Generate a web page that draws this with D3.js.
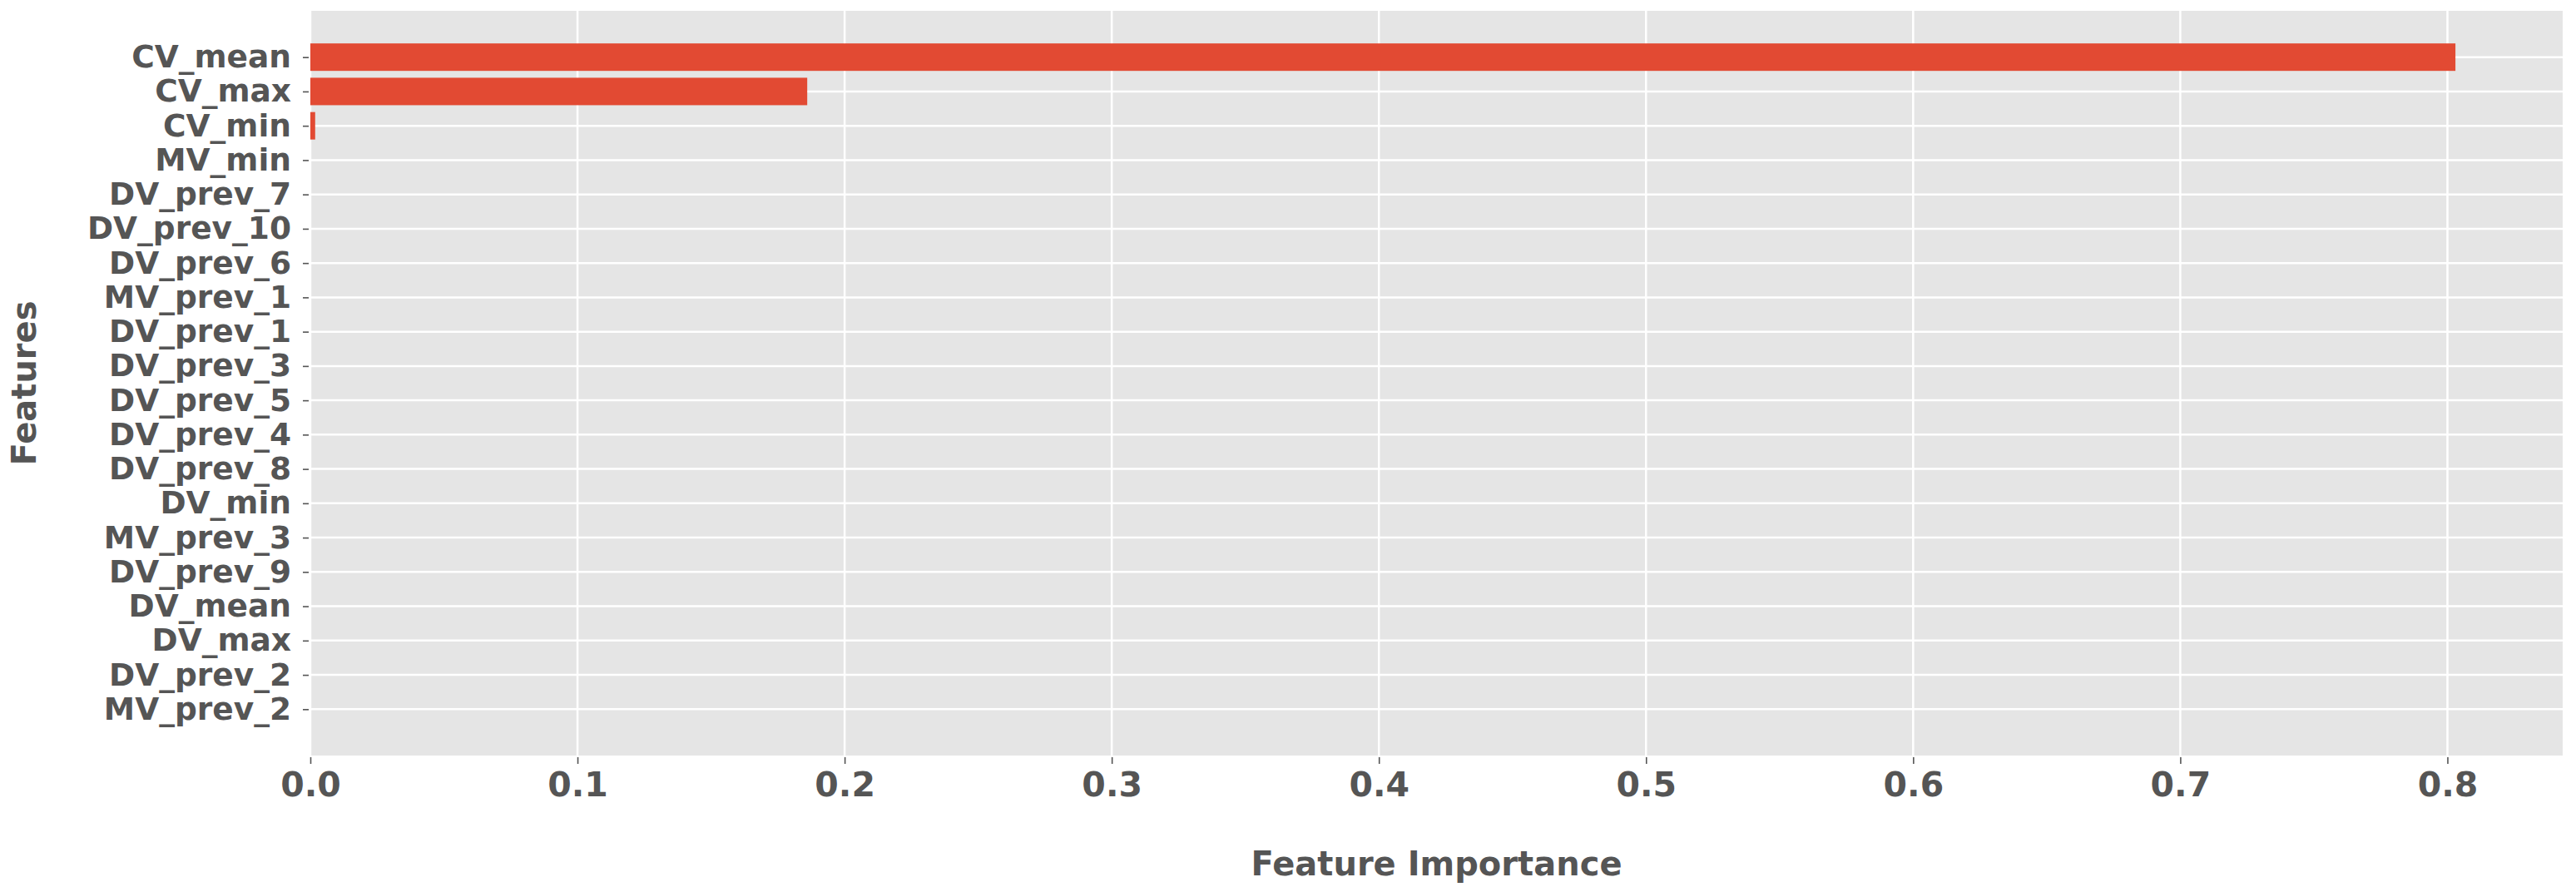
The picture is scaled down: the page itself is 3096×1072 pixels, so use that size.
<!DOCTYPE html>
<html lang="en">
    <head>
        <meta charset="utf-8">
        <title>Feature Importance</title>
        <script src="https://d3js.org/d3.v7.min.js"></script>
        <style type="text/css">
        body { margin: 0; background: #ffffff; }
        </style>
    </head>
    <body>
        <script type="text/javascript">

//1. data, top to bottom as in the plot
const features = ["CV_mean", "CV_max", "CV_min", "MV_min", "DV_prev_7", "DV_prev_10",
                  "DV_prev_6", "MV_prev_1", "DV_prev_1", "DV_prev_3", "DV_prev_5",
                  "DV_prev_4", "DV_prev_8", "DV_min", "MV_prev_3", "DV_prev_9",
                  "DV_mean", "DV_max", "DV_prev_2", "MV_prev_2"];
const importance = [0.803, 0.186, 0.0018, 0, 0, 0, 0, 0, 0, 0,
                    0, 0, 0, 0, 0, 0, 0, 0, 0, 0];
const xTicks = [0, 0.1, 0.2, 0.3, 0.4, 0.5, 0.6, 0.7, 0.8];

//2. layout consts
const svgWidth = 3096;
const svgHeight = 1072;
const plotLeft = 373, plotRight = 3080, plotTop = 13, plotBottom = 908;
const textColor = "#555555";
const font = "DejaVu Sans";

const svg = d3.select("body")
                .append("svg")
                .attr("width", svgWidth)
                .attr("height", svgHeight);

//3. scales
const xScale = d3.scaleLinear()
                .domain([0, d3.max(importance) * 1.05])
                .range([plotLeft, plotRight]);

// index scale, same margins matplotlib adds round barh
const yScale = d3.scaleLinear()
                .domain([-1.35, features.length - 1 + 1.35])
                .range([plotTop, plotBottom]);

const barH = yScale(0.8) - yScale(0);

//background
svg.append("rect")
    .attr("x", plotLeft)
    .attr("y", plotTop)
    .attr("width", plotRight - plotLeft)
    .attr("height", plotBottom - plotTop)
    .attr("fill", "#e5e5e5");

//grid
svg.append("g")
    .selectAll("line")
    .data(xTicks)
    .join("line")
    .attr("x1", d => xScale(d))
    .attr("x2", d => xScale(d))
    .attr("y1", plotTop)
    .attr("y2", plotBottom)
    .attr("stroke", "#ffffff")
    .attr("stroke-width", 2.5);

svg.append("g")
    .selectAll("line")
    .data(d3.range(features.length))
    .join("line")
    .attr("x1", plotLeft)
    .attr("x2", plotRight)
    .attr("y1", d => yScale(d))
    .attr("y2", d => yScale(d))
    .attr("stroke", "#ffffff")
    .attr("stroke-width", 2.5);

//4. bars
svg.append("g")
    .selectAll("rect")
    .data(importance)
    .join("rect")
    .attr("x", xScale(0))
    .attr("y", (d, i) => yScale(i) - barH / 2)
    .attr("width", d => xScale(d) - xScale(0))
    .attr("height", barH)
    .attr("fill", "#e24a33");

//5. axes
const bottomAxis = d3.axisBottom(xScale)
                    .tickValues(xTicks)
                    .tickFormat(d3.format(".1f"))
                    .tickSize(8)
                    .tickPadding(10);

const xg = svg.append("g")
    .attr("transform", "translate(0," + (plotBottom + 2) + ")")
    .call(bottomAxis);

const leftAxis = d3.axisLeft(yScale)
                    .tickValues(d3.range(features.length))
                    .tickFormat(i => features[i])
                    .tickSize(7)
                    .tickPadding(14);

const yg = svg.append("g")
    .attr("transform", "translate(" + (plotLeft - 2) + ",0)")
    .call(leftAxis);

[xg, yg].forEach(g => {
    g.select(".domain").remove();
    g.selectAll(".tick line").attr("stroke", textColor).attr("stroke-width", 1.6);
    g.selectAll(".tick text")
        .attr("fill", textColor)
        .attr("font-family", font)
        .attr("font-weight", "bold");
});
xg.selectAll(".tick text").attr("font-size", "41px");
yg.selectAll(".tick text").attr("font-size", "37.5px");

//6. axis titles
svg.append("text")
    .attr("x", (plotLeft + plotRight) / 2)
    .attr("y", 1052)
    .attr("text-anchor", "middle")
    .attr("font-family", font)
    .attr("font-weight", "bold")
    .attr("font-size", "40px")
    .attr("fill", textColor)
    .text("Feature Importance");

svg.append("text")
    .attr("transform", "translate(43," + (plotTop + plotBottom) / 2 + ") rotate(-90)")
    .attr("text-anchor", "middle")
    .attr("font-family", font)
    .attr("font-weight", "bold")
    .attr("font-size", "40px")
    .attr("fill", textColor)
    .text("Features");

</script>
</body>
</html>
